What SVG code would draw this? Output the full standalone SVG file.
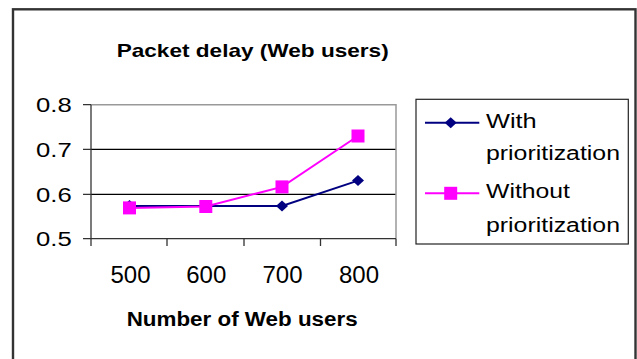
<svg xmlns="http://www.w3.org/2000/svg" width="637" height="359" viewBox="0 0 637 359">
<style>
.t{font-family:"Liberation Sans",Arial,sans-serif;fill:#000}
.b{font-weight:bold}
.ax{stroke:#333;stroke-width:1.3;fill:none}
.grid{stroke:#000;stroke-width:1.2}
.bord{stroke:#999;stroke-width:1.5;fill:none}
.s1{stroke:#000080;stroke-width:2;fill:none}
.s2{stroke:#FF00FF;stroke-width:2;fill:none}
</style>
<defs>
<path id="dia" d="M0,-5.5 L6,0 L0,5.5 L-6,0 Z" fill="#000080"/>
<rect id="sq" x="-6.5" y="-6.5" width="13" height="13" fill="#FF00FF"/>
</defs>
<rect id="frame" x="13" y="9.3" width="622.5" height="360" fill="#fff" stroke="#333" stroke-width="2.4"/>
<text id="title" class="t b" x="116.7" y="57.3" font-size="18.6" textLength="272" lengthAdjust="spacingAndGlyphs">Packet delay (Web users)</text>
<g id="plot">
<line class="grid" x1="91" y1="149.3" x2="396" y2="149.3"/>
<line class="grid" x1="91" y1="194.3" x2="396" y2="194.3"/>
<polyline class="bord" points="91,104.7 396,104.7 396,238.7"/>
<line class="ax" x1="91" y1="238.7" x2="396" y2="238.7"/>
<line class="ax" x1="91" y1="104.7" x2="91" y2="246"/>
<path class="ax" d="M83,104.7H91M83,149.3H91M83,194.3H91M83,238.7H91M167,238.7V246M244,238.7V246M320.5,238.7V246M396,238.7V246"/>
<text class="t" x="36" y="112" font-size="20.5" textLength="35.7" lengthAdjust="spacingAndGlyphs">0.8</text>
<text class="t" x="36" y="156.7" font-size="20.5" textLength="35.7" lengthAdjust="spacingAndGlyphs">0.7</text>
<text class="t" x="36" y="201.7" font-size="20.5" textLength="35.7" lengthAdjust="spacingAndGlyphs">0.6</text>
<text class="t" x="36" y="246" font-size="20.5" textLength="35.7" lengthAdjust="spacingAndGlyphs">0.5</text>
<g class="t" font-size="24" text-anchor="middle">
<text x="130.5" y="283.3">500</text>
<text x="206.3" y="283.3">600</text>
<text x="282.5" y="283.3">700</text>
<text x="359" y="283.3">800</text>
</g>
<text id="xtitle" class="t b" x="126.7" y="326" font-size="20" textLength="231" lengthAdjust="spacingAndGlyphs">Number of Web users</text>
</g>
<g id="series-with">
<polyline class="s1" points="129.5,206 205.8,206 282,206 358,180.6"/>
<use href="#dia" x="129.5" y="205.5"/>
<use href="#dia" x="205.8" y="206"/>
<use href="#dia" x="282" y="206"/>
<use href="#dia" x="358" y="180.6"/>
</g>
<g id="series-without">
<polyline class="s2" points="129.5,207.9 205.8,206.5 282,186.9 358,136"/>
<use href="#sq" x="129.5" y="207.9"/>
<use href="#sq" x="205.8" y="206.5"/>
<use href="#sq" x="282" y="186.9"/>
<use href="#sq" x="358" y="136"/>
</g>
<g id="legend">
<rect x="416" y="99.3" width="212.3" height="144.7" fill="#fff" stroke="#222" stroke-width="1.2"/>
<line class="s1" x1="425" y1="122.7" x2="479.3" y2="122.7"/>
<use href="#dia" x="450.7" y="122.7"/>
<line class="s2" x1="425" y1="193.3" x2="479.3" y2="193.3"/>
<use href="#sq" x="450.7" y="193.3"/>
<text class="t" x="486" y="128.3" font-size="20" textLength="50.7" lengthAdjust="spacingAndGlyphs">With</text>
<text class="t" x="486" y="160" font-size="20" textLength="134" lengthAdjust="spacingAndGlyphs">prioritization</text>
<text class="t" x="486" y="198.3" font-size="20" textLength="84" lengthAdjust="spacingAndGlyphs">Without</text>
<text class="t" x="486" y="231.7" font-size="20" textLength="134" lengthAdjust="spacingAndGlyphs">prioritization</text>
</g>
</svg>
